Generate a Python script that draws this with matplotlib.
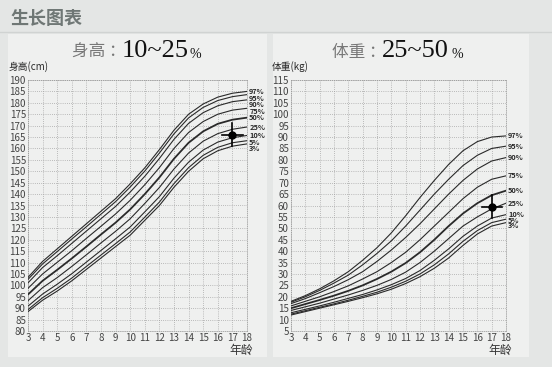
import matplotlib.pyplot as plt
from matplotlib.patches import Rectangle
import numpy as np

plt.rcParams['font.family'] = ['Noto Sans CJK SC', 'DejaVu Sans']

ages = [3, 4, 5, 6, 7, 8, 9, 10, 11, 12, 13, 14, 15, 16, 17, 18]
pct_labels = ['97%', '95%', '90%', '75%', '50%', '25%', '10%', '5%', '3%']

# height (cm) per percentile, ages 3..18
height = {
    '97%': [103.5, 110.5, 116.0, 121.5, 127.0, 132.5, 138.0, 144.5, 151.5, 159.5, 168.0, 175.0, 179.5, 182.5, 184.2, 185.0],
    '95%': [102.6, 109.4, 114.8, 120.3, 125.7, 131.2, 136.7, 143.1, 150.1, 158.0, 166.4, 173.4, 178.0, 181.0, 182.7, 183.6],
    '90%': [101.1, 107.8, 113.0, 118.4, 123.8, 129.2, 134.6, 140.9, 147.8, 155.6, 164.0, 171.0, 175.7, 178.7, 180.5, 181.3],
    '75%': [98.7, 105.0, 110.1, 115.2, 120.6, 125.9, 131.3, 137.3, 144.1, 151.6, 160.0, 167.0, 171.8, 175.0, 176.8, 177.6],
    '50%': [96.0, 102.0, 106.8, 111.8, 117.0, 122.3, 127.5, 133.3, 140.0, 147.3, 155.5, 162.5, 167.5, 170.8, 172.6, 173.5],
    '25%': [93.3, 99.0, 103.4, 108.3, 113.4, 118.6, 123.7, 129.2, 135.9, 142.9, 151.0, 158.0, 163.2, 166.5, 168.4, 169.4],
    '10%': [90.9, 96.2, 100.5, 105.1, 110.2, 115.3, 120.4, 125.6, 132.2, 138.9, 147.0, 154.0, 159.3, 162.8, 164.7, 165.7],
    '5%':  [89.4, 94.6, 98.7, 103.2, 108.3, 113.3, 118.3, 123.4, 129.9, 136.5, 144.6, 151.6, 157.0, 160.5, 162.5, 163.4],
    '3%':  [88.5, 93.5, 97.5, 102.0, 107.0, 112.0, 117.0, 122.0, 128.5, 135.0, 143.0, 150.0, 155.5, 159.0, 161.0, 162.0],
}

# weight (kg) per percentile, ages 3..18
weight = {
    '97%': [18.0, 20.5, 23.5, 27.0, 31.0, 36.0, 41.5, 48.0, 55.5, 63.5, 71.0, 78.0, 84.0, 88.0, 90.0, 90.5],
    '95%': [17.6, 20.0, 22.8, 26.0, 29.5, 34.0, 39.0, 44.5, 51.0, 58.0, 65.0, 71.5, 77.5, 82.0, 85.0, 86.0],
    '90%': [17.0, 19.2, 21.8, 24.5, 27.5, 31.0, 35.5, 40.5, 46.0, 52.0, 58.5, 65.0, 71.0, 76.0, 79.5, 81.0],
    '75%': [16.0, 18.0, 20.0, 22.3, 24.8, 27.8, 31.0, 35.0, 39.5, 45.0, 51.0, 57.0, 63.0, 68.0, 71.5, 73.0],
    '50%': [15.0, 16.8, 18.6, 20.5, 22.6, 25.0, 27.8, 31.0, 34.8, 39.5, 45.0, 51.0, 56.5, 61.0, 64.5, 66.5],
    '25%': [14.0, 15.6, 17.2, 19.0, 20.8, 22.8, 25.0, 27.6, 30.8, 35.0, 40.0, 45.5, 51.0, 55.0, 58.5, 61.0],
    '10%': [13.0, 14.5, 16.0, 17.6, 19.3, 21.0, 23.0, 25.3, 28.0, 31.5, 36.0, 41.0, 46.5, 51.0, 54.5, 56.0],
    '5%':  [12.4, 13.9, 15.4, 16.9, 18.5, 20.2, 22.0, 24.2, 26.8, 30.0, 34.0, 38.8, 44.3, 49.0, 52.5, 54.0],
    '3%':  [12.0, 13.5, 15.0, 16.5, 18.0, 19.6, 21.3, 23.3, 25.8, 28.8, 32.5, 37.0, 42.5, 47.5, 51.0, 52.5],
}

# the child's measurement at 17
child_age = 17
child_height = 166
child_weight = 59.5

bg = '#e4e6e5'
panel = '#eff0ef'
ink = '#2a2a2a'

fig = plt.figure(figsize=(5.52, 3.67), dpi=100)
fig.patch.set_facecolor(bg)

def px(x, y, w, h):
    return (x / 552, 1 - (y + h) / 367, w / 552, h / 367)

# panels
for (x, y, w, h) in [(8, 34, 259, 323), (273, 34, 256, 323)]:
    l, b, ww, hh = px(x, y, w, h)
    fig.patches.append(Rectangle((l, b), ww, hh, transform=fig.transFigure,
                                 facecolor=panel, edgecolor='none', zorder=-5))
fig.add_artist(plt.Line2D([0, 1], [1 - 32 / 367] * 2, color='#d0d3d2', lw=1, zorder=-4))

fig.text(10 / 552, 1 - 18 / 367, '生长图表', fontsize=13, fontweight='bold',
         color='#6f7775', va='center', ha='left')


def draw(ax, data, ylim, ystep, gap, marker_xy, xerr, yerr, ylabel, title_cn, title_num, tx):
    ax.set_facecolor(panel)
    for k in pct_labels:
        lw = 1.3 if k == '50%' else 0.8
        ax.plot(ages, data[k], color=ink, lw=lw, zorder=3)
    ax.set_xlim(3, 18)
    ax.set_ylim(*ylim)
    ax.set_xticks(ages)
    ax.set_yticks(np.arange(ylim[0], ylim[1] + 1, ystep))
    ax.tick_params(labelsize=7, length=0, pad=1.5, colors='#444444')
    ax.grid(True, linestyle=(0, (1, 1.8)), color='#9a9a9a', lw=0.55)
    for s in ax.spines.values():
        s.set_linestyle((0, (1, 1.8)))
        s.set_color('#9a9a9a')
        s.set_linewidth(0.55)
    # percentile labels at the right end, spread so they do not collide
    pos = []
    for k in pct_labels:
        e = data[k][-1]
        if pos and pos[-1] - e < gap:
            e = pos[-1] - gap
        pos.append(e)
    for k, p in zip(pct_labels, pos):
        ax.text(18.15, p, k, fontsize=5.3, fontweight='bold', color=ink,
                va='center', ha='left', clip_on=False)
    mx, my = marker_xy
    ax.plot(mx, my, 'o', color='black', ms=5, zorder=5)
    ax.plot([mx - xerr, mx + xerr], [my, my], color='black', lw=1.2, zorder=5)
    ax.plot([mx, mx], [my - yerr, my + yerr], color='black', lw=1.2, zorder=5)
    ax.text(-0.09, 1.03, ylabel, transform=ax.transAxes,
            fontsize=7, color=ink, ha='left', va='bottom')
    ax.text(0.92, -0.075, '年龄', transform=ax.transAxes, fontsize=8.5,
            color='#333333', ha='left', va='center')
    fig.text(tx / 552, 1 - 52 / 367, title_cn + ' ：', fontsize=12,
             color='#777777', va='center', ha='left')
    fig.text((tx + 50) / 552, 1 - 51 / 367, title_num, fontsize=19,
             family='Liberation Serif', color='#111111', va='center', ha='left')


ax1 = fig.add_axes(px(28, 80, 219, 251))
draw(ax1, height, (80, 190), 5, 2.9, (child_age, child_height), 0.7, 5,
     '身高(cm)', '身高', '10~25', 72)
fig.text(190 / 552, 1 - 54 / 367, '%', fontsize=10, family='Liberation Serif',
         color='#111111', va='center', ha='left')

ax2 = fig.add_axes(px(291, 80, 215, 251))
draw(ax2, weight, (5, 115), 5, 2.4, (child_age, child_weight), 0.7, 5,
     '体重(kg)', '体重', '25~50', 332)
fig.text(451 / 552, 1 - 54 / 367, '%', fontsize=10, family='Liberation Serif',
         color='#111111', va='center', ha='left')

fig.savefig('out.png', dpi=100, facecolor=bg)
